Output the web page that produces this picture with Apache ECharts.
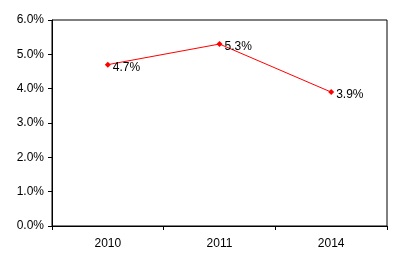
<!DOCTYPE html>
<html><head><meta charset="utf-8">
<script src="https://cdn.jsdelivr.net/npm/echarts@6/dist/echarts.min.js"></script>
<style>html,body{margin:0;padding:0;background:#fff}#c{width:399px;height:265px}</style>
</head><body><div id="c"></div>
<script>
const categories = ['2010', '2011', '2014'];
const values = [4.7, 5.3, 3.9];
const yTicks = [0, 1, 2, 3, 4, 5, 6];

const chart = echarts.init(document.getElementById('c'), null, {renderer: 'canvas'});
chart.setOption({
  animation: false,
  backgroundColor: '#fff',
  grid: {left: 52, right: 12, top: 20, bottom: 39, show: true, borderColor: '#000', borderWidth: 1, backgroundColor: 'transparent'},
  xAxis: {
    type: 'category', data: categories, boundaryGap: true,
    axisLine: {lineStyle: {color: '#000', width: 1}},
    axisTick: {show: true, length: 4, inside: false, lineStyle: {color: '#000'}},
    axisLabel: {color: '#000', fontFamily: 'Liberation Sans', fontSize: 12, margin: 12}
  },
  yAxis: {
    type: 'value', min: yTicks[0], max: yTicks[yTicks.length - 1], interval: 1,
    axisLine: {show: true, lineStyle: {color: '#000', width: 1}},
    axisTick: {show: true, length: 4, lineStyle: {color: '#000'}},
    splitLine: {show: false},
    axisLabel: {color: '#000', fontFamily: 'Liberation Sans', fontSize: 12, margin: 8,
      formatter: v => v.toFixed(1) + '%'}
  },
  series: [{
    type: 'line', data: values,
    lineStyle: {color: '#ff0000', width: 1},
    itemStyle: {color: '#ff0000'},
    symbol: 'diamond', symbolSize: 6,
    label: {show: true, position: 'right', distance: 2, color: '#000',
      fontFamily: 'Liberation Sans', fontSize: 12,
      formatter: p => p.value.toFixed(1) + '%', offset: [0, 3]}
  }]
});
</script></body></html>
